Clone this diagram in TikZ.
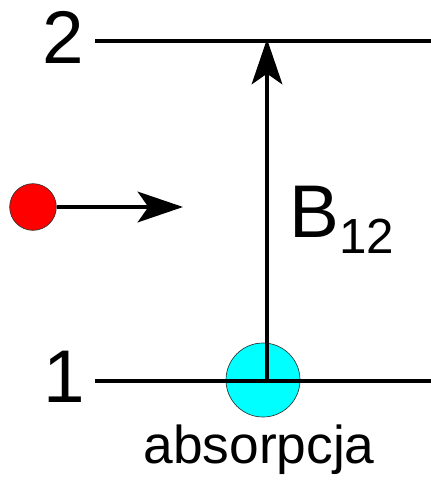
\documentclass[tikz,border=0pt]{standalone}
\usepackage{fontspec}
\setmainfont{Liberation Sans}
\usetikzlibrary{arrows.meta}
\definecolor{aqua}{RGB}{0,255,255}
\definecolor{photonred}{RGB}{255,0,0}

\begin{document}
\begin{tikzpicture}[x=0.75pt,y=-0.75pt,line cap=butt,
level/.style={line width=3.2pt},
jump/.style={line width=2.4pt,-{Stealth[length=34pt,width=23pt,inset=8pt]}},
big/.style={font=\fontsize{56}{60}\selectfont,inner sep=0pt,anchor=base},
atom/.style={circle,draw=black!80,line width=.5pt,inner sep=0pt}]
\useasboundingbox (0,0) rectangle (431,481);
% levels
\coordinate (l1a) at (95,381);\coordinate (l1b) at (431,381);
\coordinate (l2a) at (95,41);\coordinate (l2b) at (431,41);
\node[atom,fill=aqua,minimum size=55.5pt] (abs) at (263,380) {};
\draw[level] (l1a)--(l1b);
\draw[level] (l2a)--(l2b);
\node[big] (n2) at (63,64) {2};
\node[big] (n1) at (64,402) {1};
% photon
\node[atom,fill=photonred,minimum size=35pt] (ph) at (33,207) {};
\coordinate (phend) at (183,207);
\draw[jump,line width=2.8pt] (ph)--(phend);
% transition
\coordinate (up1) at (267,381);\coordinate (up2) at (267,39);
\draw[jump] (up1)--(up2);
\node[big,anchor=base west] (b12) at (289,237) {B\raisebox{-12pt}{\fontsize{37}{40}\selectfont 12}};
\node[inner sep=0pt,anchor=base,font=\fontsize{40}{44}\selectfont] (lab) at (259,463) {absorpcja};
\end{tikzpicture}
\end{document}
